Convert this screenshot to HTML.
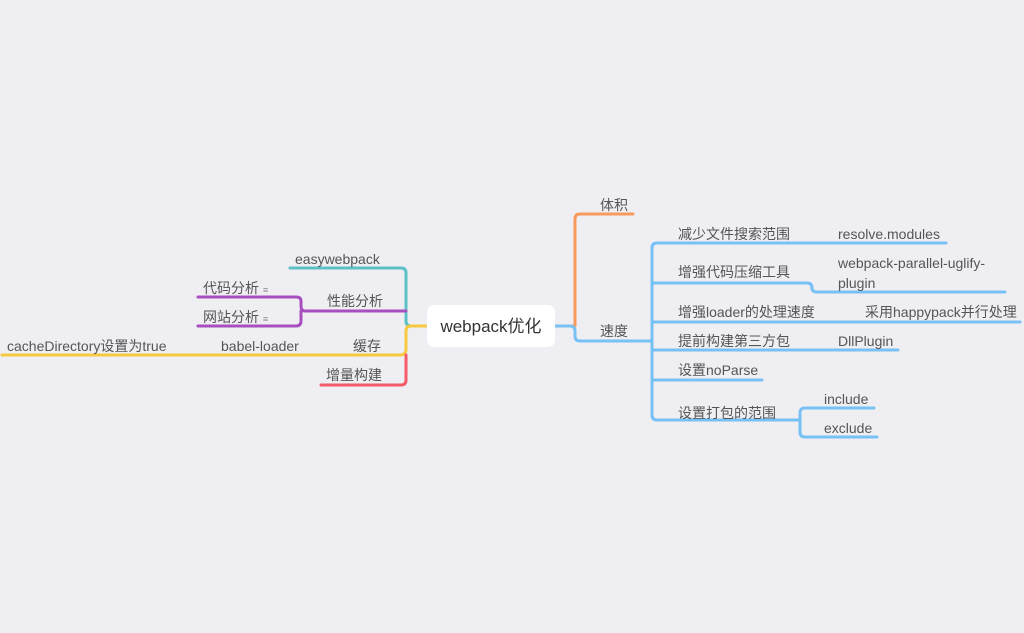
<!DOCTYPE html>
<html><head><meta charset="utf-8"><style>
html,body{margin:0;padding:0;background:#efeef3;}
svg{display:block}
text{font-family:"Liberation Sans","Noto Sans CJK SC",sans-serif;font-size:14px;fill:#555;}
</style></head><body>
<svg width="1024" height="633" viewBox="0 0 1024 633">
<rect width="1024" height="633" fill="#efeef3"/>
<g fill="none" stroke-width="3" stroke-linecap="round" stroke-linejoin="round">
<path d="M427 326 H411 Q406 326 406 321 V273 Q406 268 401 268 H290" stroke="#5cc1c6"/>
<path d="M406 311 H305 Q301 311 301 306 V301 Q301 297 296 297 H198" stroke="#a84fc0"/>
<path d="M301 311 V321 Q301 326 296 326 H198" stroke="#a84fc0"/>
<path d="M427 326 H411 Q406 326 406 331 V349 Q406 355 400 355 H2" stroke="#f7c842"/>
<path d="M406 355 V380 Q406 385 401 385 H321" stroke="#f45b69"/>
<path d="M555 326 H575 V219 Q575 214 580 214 H633" stroke="#f79a5c"/>
<path d="M555 326 H570 Q575 326 575 331 V336 Q575 341 580 341 H652" stroke="#78c1f5"/>
<path d="M652 341 V248 Q652 243 657 243 H946" stroke="#78c1f5"/>
<path d="M652 341 V415 Q652 420 657 420 H800" stroke="#78c1f5"/>
<path d="M652 283 H807 Q812 283 812 288 Q812 292 817 292 H1005" stroke="#78c1f5"/>
<path d="M652 322 H1020" stroke="#78c1f5"/>
<path d="M652 350 H898" stroke="#78c1f5"/>
<path d="M652 380 H762" stroke="#78c1f5"/>
<path d="M800 420 V413 Q800 408 805 408 H874" stroke="#78c1f5"/>
<path d="M800 420 V432 Q800 437 805 437 H877" stroke="#78c1f5"/>
</g>
<rect x="427" y="305" width="128" height="42" rx="7" fill="#fff"/>
<text x="491" y="332" text-anchor="middle" style="font-size:17px;fill:#333">webpack优化</text>
<text x="295" y="264">easywebpack</text>
<text x="327" y="306">性能分析</text>
<text x="203" y="293">代码分析 <tspan style="font-size:9px" fill="#888">≡</tspan></text>
<text x="203" y="322">网站分析 <tspan style="font-size:9px" fill="#888">≡</tspan></text>
<text x="353" y="351">缓存</text>
<text x="221" y="351">babel-loader</text>
<text x="7" y="351">cacheDirectory设置为true</text>
<text x="326" y="380">增量构建</text>
<text x="600" y="210">体积</text>
<text x="600" y="336">速度</text>
<text x="678" y="239">减少文件搜索范围</text>
<text x="838" y="239">resolve.modules</text>
<text x="678" y="277">增强代码压缩工具</text>
<text x="838" y="268">webpack-parallel-uglify-</text>
<text x="838" y="288">plugin</text>
<text x="678" y="317">增强loader的处理速度</text>
<text x="865" y="317">采用happypack并行处理</text>
<text x="678" y="346">提前构建第三方包</text>
<text x="838" y="346">DllPlugin</text>
<text x="678" y="375">设置noParse</text>
<text x="678" y="418">设置打包的范围</text>
<text x="824" y="404">include</text>
<text x="824" y="433">exclude</text>
</svg>
</body></html>
